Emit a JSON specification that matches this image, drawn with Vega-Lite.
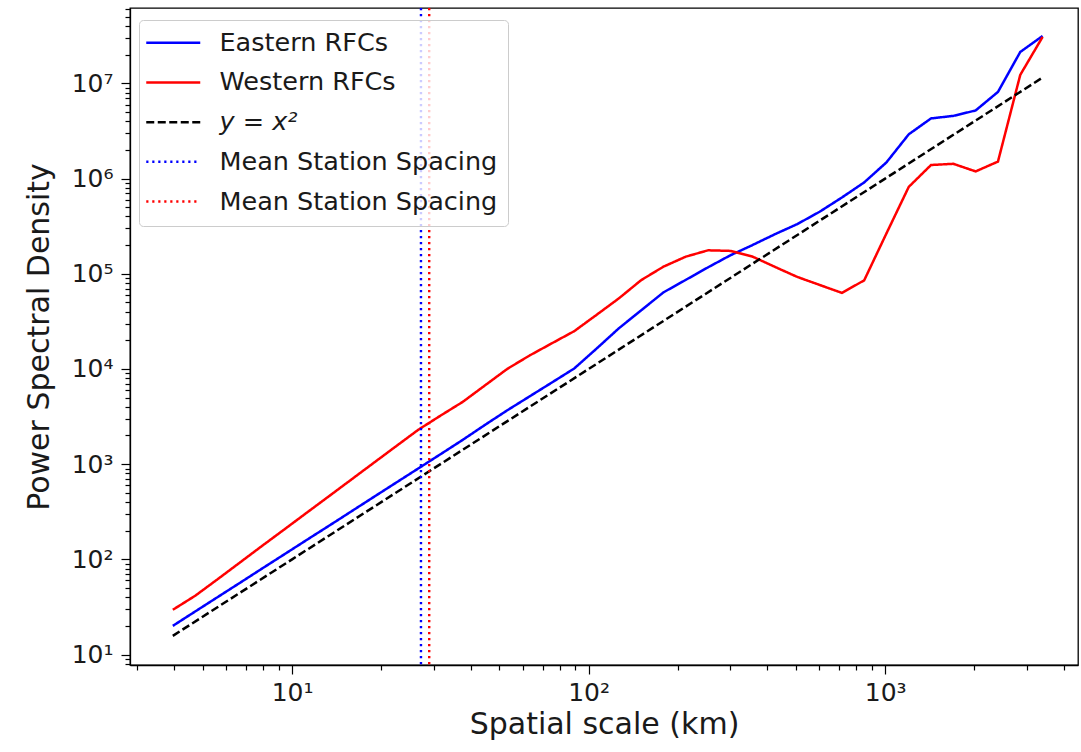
{
  "$schema": "https://vega.github.io/schema/vega-lite/v6.json",
  "width": 948,
  "height": 657,
  "autosize": {"type": "none"},
  "padding": {"left": 130, "top": 8, "right": 3, "bottom": 87},
  "config": {
    "font": "DejaVu Sans",
    "view": {"stroke": "black", "strokeWidth": 1.3},
    "axis": {
      "grid": false,
      "domainColor": "black",
      "domainWidth": 1.3,
      "tickColor": "black",
      "tickWidth": 1.2,
      "labelColor": "#1a1a1a",
      "titleColor": "#1a1a1a",
      "labelFontSize": 25,
      "titleFontSize": 30,
      "titleFontWeight": "normal",
      "labelOverlap": false,
      "labelFlush": false,
      "labelBound": false
    }
  },
  "datasets": {
    "curves": [
      {"series": "Eastern RFCs", "x": 3.96, "y": 20.0},
      {"series": "Eastern RFCs", "x": 4.71, "y": 28.3},
      {"series": "Eastern RFCs", "x": 5.60, "y": 40.0},
      {"series": "Eastern RFCs", "x": 6.66, "y": 56.5},
      {"series": "Eastern RFCs", "x": 7.91, "y": 79.8},
      {"series": "Eastern RFCs", "x": 9.41, "y": 112.8},
      {"series": "Eastern RFCs", "x": 11.19, "y": 159.5},
      {"series": "Eastern RFCs", "x": 13.31, "y": 225},
      {"series": "Eastern RFCs", "x": 15.82, "y": 318},
      {"series": "Eastern RFCs", "x": 18.81, "y": 450},
      {"series": "Eastern RFCs", "x": 22.37, "y": 636},
      {"series": "Eastern RFCs", "x": 26.61, "y": 899},
      {"series": "Eastern RFCs", "x": 31.64, "y": 1270},
      {"series": "Eastern RFCs", "x": 37.62, "y": 1799},
      {"series": "Eastern RFCs", "x": 44.74, "y": 2588},
      {"series": "Eastern RFCs", "x": 53.20, "y": 3683},
      {"series": "Eastern RFCs", "x": 63.24, "y": 5152},
      {"series": "Eastern RFCs", "x": 75.20, "y": 7211},
      {"series": "Eastern RFCs", "x": 89.42, "y": 10120},
      {"series": "Eastern RFCs", "x": 106.3, "y": 16340},
      {"series": "Eastern RFCs", "x": 126.5, "y": 26770},
      {"series": "Eastern RFCs", "x": 150.3, "y": 41270},
      {"series": "Eastern RFCs", "x": 178.8, "y": 63800},
      {"series": "Eastern RFCs", "x": 212.6, "y": 86300},
      {"series": "Eastern RFCs", "x": 252.8, "y": 117000},
      {"series": "Eastern RFCs", "x": 300.6, "y": 156400},
      {"series": "Eastern RFCs", "x": 357.4, "y": 200700},
      {"series": "Eastern RFCs", "x": 425.0, "y": 260600},
      {"series": "Eastern RFCs", "x": 505.3, "y": 332700},
      {"series": "Eastern RFCs", "x": 600.8, "y": 448000},
      {"series": "Eastern RFCs", "x": 714.5, "y": 632800},
      {"series": "Eastern RFCs", "x": 849.6, "y": 912000},
      {"series": "Eastern RFCs", "x": 1010, "y": 1480000},
      {"series": "Eastern RFCs", "x": 1201, "y": 2920000},
      {"series": "Eastern RFCs", "x": 1428, "y": 4290000},
      {"series": "Eastern RFCs", "x": 1698, "y": 4560000},
      {"series": "Eastern RFCs", "x": 2019, "y": 5200000},
      {"series": "Eastern RFCs", "x": 2401, "y": 8140000},
      {"series": "Eastern RFCs", "x": 2855, "y": 21400000},
      {"series": "Eastern RFCs", "x": 3396, "y": 31500000},
      {"series": "Western RFCs", "x": 3.96, "y": 29.5},
      {"series": "Western RFCs", "x": 4.71, "y": 41.4},
      {"series": "Western RFCs", "x": 5.60, "y": 61.6},
      {"series": "Western RFCs", "x": 6.66, "y": 92.3},
      {"series": "Western RFCs", "x": 7.91, "y": 138},
      {"series": "Western RFCs", "x": 9.41, "y": 206},
      {"series": "Western RFCs", "x": 11.19, "y": 308},
      {"series": "Western RFCs", "x": 13.31, "y": 460},
      {"series": "Western RFCs", "x": 15.82, "y": 687},
      {"series": "Western RFCs", "x": 18.81, "y": 1027},
      {"series": "Western RFCs", "x": 22.37, "y": 1535},
      {"series": "Western RFCs", "x": 26.61, "y": 2292},
      {"series": "Western RFCs", "x": 31.64, "y": 3230},
      {"series": "Western RFCs", "x": 37.62, "y": 4510},
      {"series": "Western RFCs", "x": 44.74, "y": 6730},
      {"series": "Western RFCs", "x": 53.20, "y": 10030},
      {"series": "Western RFCs", "x": 63.24, "y": 13860},
      {"series": "Western RFCs", "x": 75.20, "y": 18620},
      {"series": "Western RFCs", "x": 89.42, "y": 24950},
      {"series": "Western RFCs", "x": 106.3, "y": 37000},
      {"series": "Western RFCs", "x": 126.5, "y": 55200},
      {"series": "Western RFCs", "x": 150.3, "y": 85700},
      {"series": "Western RFCs", "x": 178.8, "y": 118800},
      {"series": "Western RFCs", "x": 212.6, "y": 151300},
      {"series": "Western RFCs", "x": 252.8, "y": 176500},
      {"series": "Western RFCs", "x": 300.6, "y": 174000},
      {"series": "Western RFCs", "x": 357.4, "y": 151300},
      {"series": "Western RFCs", "x": 425.0, "y": 118100},
      {"series": "Western RFCs", "x": 505.3, "y": 92700},
      {"series": "Western RFCs", "x": 600.8, "y": 76400},
      {"series": "Western RFCs", "x": 714.5, "y": 63000},
      {"series": "Western RFCs", "x": 849.6, "y": 85300},
      {"series": "Western RFCs", "x": 1010, "y": 265600},
      {"series": "Western RFCs", "x": 1201, "y": 818000},
      {"series": "Western RFCs", "x": 1428, "y": 1390000},
      {"series": "Western RFCs", "x": 1698, "y": 1430000},
      {"series": "Western RFCs", "x": 2019, "y": 1190000},
      {"series": "Western RFCs", "x": 2401, "y": 1510000},
      {"series": "Western RFCs", "x": 2855, "y": 12300000},
      {"series": "Western RFCs", "x": 3396, "y": 30800000},
      {"series": "y = x²", "x": 3.96, "y": 15.7},
      {"series": "y = x²", "x": 10, "y": 100},
      {"series": "y = x²", "x": 100, "y": 10000},
      {"series": "y = x²", "x": 1000, "y": 1000000},
      {"series": "y = x²", "x": 3396, "y": 11530000}
    ],
    "spacing": [
      {"series": "Mean Station Spacing (Eastern)", "x": 27.2},
      {"series": "Mean Station Spacing (Western)", "x": 29.0}
    ]
  },
  "layer": [
    {
      "data": {"name": "curves"},
      "mark": {"type": "line", "strokeWidth": 2.5, "clip": true},
      "encoding": {
        "x": {
          "field": "x", "type": "quantitative",
          "scale": {"type": "log", "domain": [2.84, 4470], "nice": false},
          "axis": {
            "title": "Spatial scale (km)",
            "values": [3,4,5,6,7,8,9,10,20,30,40,50,60,70,80,90,100,200,300,400,500,600,700,800,900,1000,2000,3000,4000],
            "labelExpr": "abs(log(datum.value)/LN10 - round(log(datum.value)/LN10)) < 0.001 ? '10' + ['⁰','¹','²','³','⁴','⁵','⁶','⁷','⁸'][round(log(datum.value)/LN10)] : ''",
            "tickSize": {"condition": {"test": "abs(log(datum.value)/LN10 - round(log(datum.value)/LN10)) < 0.001", "value": 9}, "value": 5},
            "labelPadding": 6,
            "titlePadding": 4
          }
        },
        "y": {
          "field": "y", "type": "quantitative",
          "scale": {"type": "log", "domain": [7.76, 62000000], "nice": false},
          "axis": {
            "title": "Power Spectral Density",
            "values": [8,9,10,20,30,40,50,60,70,80,90,100,200,300,400,500,600,700,800,900,1000,2000,3000,4000,5000,6000,7000,8000,9000,10000,20000,30000,40000,50000,60000,70000,80000,90000,100000,200000,300000,400000,500000,600000,700000,800000,900000,1000000,2000000,3000000,4000000,5000000,6000000,7000000,8000000,9000000,10000000,20000000,30000000,40000000,50000000,60000000],
            "labelExpr": "abs(log(datum.value)/LN10 - round(log(datum.value)/LN10)) < 0.001 ? '10' + ['⁰','¹','²','³','⁴','⁵','⁶','⁷','⁸'][round(log(datum.value)/LN10)] : ''",
            "tickSize": {"condition": {"test": "abs(log(datum.value)/LN10 - round(log(datum.value)/LN10)) < 0.001", "value": 9}, "value": 5},
            "labelPadding": 8,
            "titlePadding": 17
          }
        },
        "color": {
          "field": "series", "type": "nominal",
          "scale": {
            "domain": ["Eastern RFCs", "Western RFCs", "y = x²", "Mean Station Spacing (Eastern)", "Mean Station Spacing (Western)"],
            "range": ["#0000ff", "#ff0000", "#000000", "#0000ff", "#ff0000"]
          },
          "legend": {
            "title": null,
            "orient": "none",
            "legendX": 9,
            "legendY": 12,
            "fillColor": "rgba(255,255,255,0.8)",
            "strokeColor": "#cccccc",
            "cornerRadius": 4,
            "padding": 10,
            "labelFontSize": 25.5,
            "labelColor": "#1a1a1a",
            "labelLimit": 600,
            "labelOffset": 45,
            "symbolType": "M-1.55,0H3.85",
            "symbolSize": 400,
            "symbolStrokeWidth": 2.5,
            "rowPadding": 12.7,
            "labelExpr": "indexof(datum.label, 'Mean') == 0 ? 'Mean Station Spacing' : datum.label",
            "encode": {"labels": {"update": {"fontStyle": {"signal": "datum.value === 'y = x²' ? 'italic' : 'normal'"}}}}
          }
        },
        "strokeDash": {
          "field": "series", "type": "nominal",
          "scale": {
            "domain": ["Eastern RFCs", "Western RFCs", "y = x²", "Mean Station Spacing (Eastern)", "Mean Station Spacing (Western)"],
            "range": [[1, 0], [1, 0], [8, 3.5], [2.2, 3.8], [2.2, 3.8]]
          },
          "legend": {
            "title": null,
            "orient": "none",
            "legendX": 9,
            "legendY": 12,
            "fillColor": "rgba(255,255,255,0.8)",
            "strokeColor": "#cccccc",
            "cornerRadius": 4,
            "padding": 10,
            "labelFontSize": 25.5,
            "labelColor": "#1a1a1a",
            "labelLimit": 600,
            "labelOffset": 45,
            "symbolType": "M-1.55,0H3.85",
            "symbolSize": 400,
            "symbolStrokeWidth": 2.5,
            "rowPadding": 12.7,
            "labelExpr": "indexof(datum.label, 'Mean') == 0 ? 'Mean Station Spacing' : datum.label",
            "encode": {"labels": {"update": {"fontStyle": {"signal": "datum.value === 'y = x²' ? 'italic' : 'normal'"}}}}
          }
        }
      }
    },
    {
      "data": {"name": "spacing"},
      "mark": {"type": "rule", "strokeWidth": 2.4},
      "encoding": {
        "x": {"field": "x", "type": "quantitative"},
        "color": {"field": "series", "type": "nominal"},
        "strokeDash": {"field": "series", "type": "nominal"}
      }
    }
  ]
}
